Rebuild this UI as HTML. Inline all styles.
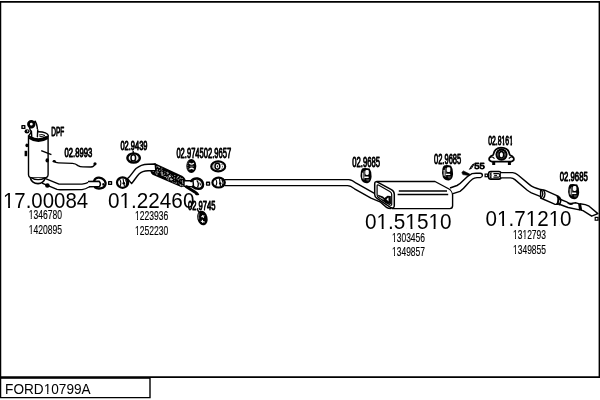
<!DOCTYPE html>
<html><head><meta charset="utf-8"><style>
html,body{margin:0;padding:0;background:#fff;}
body{width:600px;height:400px;overflow:hidden;position:relative;}
svg{position:absolute;left:0;top:0;display:block;will-change:transform;}
.big{font-family:"Liberation Sans",Arial,sans-serif;font-size:21.2px;fill:#000;}
.sm{font-family:"Liberation Sans",Arial,sans-serif;font-size:12.2px;fill:#000;stroke:#000;stroke-width:0.15px;}
.lb{font-family:"Liberation Sans",Arial,sans-serif;font-size:14px;fill:#000;stroke:#000;stroke-width:0.95px;stroke-linejoin:round;}
.ln{fill:none;stroke:#000;stroke-width:1.4;stroke-linecap:round;stroke-linejoin:round;}
.lw{fill:#fff;stroke:#000;stroke-width:1.4;stroke-linecap:round;stroke-linejoin:round;}
.lb2{fill:none;stroke:#000;stroke-width:2.2;stroke-linecap:round;stroke-linejoin:round;}
</style></head><body>
<svg width="600" height="400" viewBox="0 0 600 400">
<!-- frame -->
<path d="M0.6 1 V398" stroke="#000" stroke-width="1.3" fill="none"/>
<path d="M0 1.8 H600" stroke="#000" stroke-width="1.7" fill="none"/>
<path d="M599.3 1 V378" stroke="#000" stroke-width="1.4" fill="none"/>
<path d="M0 377.1 H600" stroke="#000" stroke-width="1.6" fill="none"/>
<path d="M150 377 V398.2 M0 397.6 H150.7" stroke="#000" stroke-width="1.4" fill="none"/>
<path d="M0 378.4 H150" stroke="#000" stroke-width="0.9" fill="none"/>


<!-- DPF part -->
<g id="dpf">
 <rect x="22" y="125.6" width="2.8" height="2.8" class="ln" stroke-width="1.1"/>
 <!-- inlet tube -->
 <path d="M29.6 127.5 C30.5 131 31.2 134 31.6 137 L37.4 136 C37.6 132 38.4 127 35.2 121.2 Z" class="lw" stroke-width="1.6"/>
 <circle cx="31.3" cy="124.2" r="2.8" fill="#fff" stroke="#000" stroke-width="2.8"/>
 <ellipse cx="27" cy="131.4" rx="2.5" ry="2.1" fill="#000"/><circle cx="27.6" cy="131" r="0.7" fill="#fff"/>
 <!-- body -->
 <path d="M28.5 135.6 V174.5 Q28.6 177.8 32 178 H44.5 Q48 177.8 48.1 174.5 V135.5" class="lw" stroke-width="1.5"/>
 <ellipse cx="38.6" cy="135.6" rx="9.6" ry="3.9" fill="#fff" stroke="#000" stroke-width="1.4"/>
 <path d="M29.6 137.2 Q38 143 47.4 137.4" fill="none" stroke="#000" stroke-width="3.6"/>
 <path d="M39 135 Q42 133.8 45 135.5 Q42 137.2 39.5 136.4" fill="none" stroke="#000" stroke-width="0.9"/>
 <!-- re-draw inlet tube over ellipse -->
 <path d="M30.6 131 C31 133 31.4 135 31.7 137 L37.2 136.2 C37.4 133 37.6 131 37.6 129" fill="#fff" stroke="none"/>
 <path d="M31.4 131 L31.8 137.6 M37.7 130 L37.4 136.8" class="ln" stroke-width="1.6"/>
 <!-- bottom -->
 <path d="M30.3 178 Q32 183.5 38 183.6 Q43.5 183.5 45.2 178" fill="#fff" stroke="#000" stroke-width="1.6"/>
 <path d="M31 177.6 Q38 181.8 45.5 177.6" fill="none" stroke="#000" stroke-width="1.3"/>
 <!-- side details -->
 <ellipse cx="26.9" cy="145.4" rx="1.5" ry="1.8" fill="#000"/>
 <path d="M25.9 150.8 V156.2" stroke="#000" stroke-width="2.6"/>
 <path d="M41.2 150.6 L51.4 154.6" stroke="#000" stroke-width="1.5"/>
 <ellipse cx="47.2" cy="160.4" rx="1.7" ry="2.1" fill="#000"/>
 <!-- sensor wire -->
 <path d="M54 161.3 Q55.5 162.8 58.5 162.9 L72.5 163.4 Q75.5 163.6 78 165.6 Q80 166.9 83 166.9 L91 167 Q94 166.8 94.8 164.2" class="ln" stroke-width="2.1"/>
 <circle cx="95" cy="163.8" r="1.6" fill="#000"/>
 <ellipse cx="54.2" cy="161.3" rx="1.6" ry="1.3" fill="#000"/>
 <!-- outlet pipe -->
 <path d="M45.6 178.6 L59 184.1 L82 184.1 Q86 183.8 89 182" class="ln" stroke-width="1.5"/>
 <path d="M42.6 183.4 L57 189.4 Q58.5 189.7 60 189.7 L82 189.6 Q85.5 189.2 89 187" class="ln" stroke-width="1.5"/>
 <circle cx="47.4" cy="185.5" r="2.3" fill="#000"/>
 <!-- flange -->
 <path d="M94.2 180.6 Q95.5 177.4 99 177.6 Q104.8 178.6 105.6 183 Q105.8 187.4 100.6 188.4 Q96.6 188.8 95 187.4" fill="#fff" stroke="#000" stroke-width="2.3" stroke-linecap="round"/>
 <path d="M88 181.6 L99.2 181.2 Q101.4 183.6 99.6 186.4 L89 186.8" fill="#fff" stroke="#000" stroke-width="1.5" stroke-linejoin="round"/>
 <ellipse cx="103.2" cy="184.4" rx="0.9" ry="1.3" fill="#000"/>
 <rect x="108.7" y="181.6" width="2.8" height="2.8" class="ln" stroke-width="1.1"/>
</g>


<!-- section 2 front pipe -->
<g id="sec2">
 <!-- gasket 02.9439 -->
 <path d="M133.2 150.8 V153" stroke="#000" stroke-width="1.4"/>
 <ellipse cx="133.6" cy="158" rx="6.3" ry="4.6" fill="#fff" stroke="#000" stroke-width="2.3"/>
 <path d="M128.6 156.4 Q128.2 158.6 129.4 160.4 M137.8 155.6 Q139 158 137.8 160.6" fill="none" stroke="#000" stroke-width="0.9" stroke-dasharray="1 0.9"/>
 <ellipse cx="133.3" cy="157.9" rx="2.3" ry="3.1" fill="#fff" stroke="#000" stroke-width="1.5"/>
 <!-- flex -->
 <path d="M155 163.3 L182 175.8 Q186 178 185.8 182 Q185.4 186.4 181.6 187.2 L152.5 174.8 Q149.8 172.6 150.3 168.5 Q151.3 164.2 155 163.3 Z" fill="#000"/>
 <rect x="166.3" y="177.0" width="0.9" height="0.8" fill="#eee"/><rect x="153.4" y="170.6" width="0.7" height="0.6" fill="#aaa"/><rect x="166.7" y="174.0" width="0.7" height="0.6" fill="#ccc"/><rect x="168.0" y="179.6" width="0.9" height="0.8" fill="#aaa"/><rect x="180.2" y="180.7" width="0.9" height="0.6" fill="#ccc"/><rect x="153.9" y="165.7" width="0.9" height="0.8" fill="#fff"/><rect x="153.1" y="171.3" width="0.9" height="0.6" fill="#eee"/><rect x="161.8" y="170.4" width="0.7" height="0.6" fill="#fff"/><rect x="154.9" y="172.7" width="1.1" height="0.6" fill="#ccc"/><rect x="182.7" y="183.4" width="0.7" height="0.6" fill="#eee"/><rect x="181.8" y="178.1" width="0.9" height="0.6" fill="#fff"/><rect x="164.1" y="173.5" width="1.1" height="0.8" fill="#ccc"/><rect x="167.3" y="179.3" width="1.1" height="0.6" fill="#ccc"/><rect x="153.3" y="166.5" width="0.9" height="0.8" fill="#eee"/><rect x="167.1" y="171.9" width="0.9" height="0.6" fill="#fff"/><rect x="152.4" y="170.8" width="0.7" height="0.6" fill="#fff"/><rect x="166.3" y="172.2" width="0.7" height="0.6" fill="#ccc"/><rect x="182.4" y="184.8" width="0.9" height="0.6" fill="#aaa"/><rect x="170.6" y="178.6" width="0.9" height="0.8" fill="#fff"/><rect x="181.7" y="181.2" width="0.9" height="0.8" fill="#aaa"/><rect x="166.7" y="176.5" width="1.1" height="0.6" fill="#ccc"/><rect x="171.6" y="175.0" width="0.7" height="0.6" fill="#aaa"/><rect x="178.1" y="179.5" width="0.9" height="0.8" fill="#fff"/><rect x="172.0" y="176.0" width="0.9" height="0.8" fill="#aaa"/><rect x="182.9" y="185.0" width="0.9" height="0.6" fill="#ccc"/><rect x="157.6" y="166.4" width="0.9" height="0.6" fill="#fff"/><rect x="156.1" y="174.3" width="0.9" height="0.6" fill="#aaa"/><rect x="163.8" y="176.0" width="1.1" height="0.8" fill="#aaa"/><rect x="170.3" y="179.0" width="0.9" height="0.8" fill="#eee"/><rect x="158.5" y="166.5" width="0.7" height="0.6" fill="#aaa"/><rect x="152.8" y="168.0" width="0.9" height="0.8" fill="#eee"/><rect x="175.7" y="181.9" width="1.1" height="0.6" fill="#eee"/><rect x="164.0" y="174.3" width="0.7" height="0.6" fill="#aaa"/><rect x="169.8" y="179.3" width="1.1" height="0.8" fill="#aaa"/><rect x="154.4" y="169.1" width="0.9" height="0.6" fill="#ccc"/><rect x="155.1" y="166.7" width="1.1" height="0.8" fill="#aaa"/><rect x="170.8" y="180.2" width="0.7" height="0.8" fill="#ccc"/><rect x="179.9" y="177.0" width="0.7" height="0.8" fill="#ccc"/><rect x="181.3" y="178.2" width="0.9" height="0.6" fill="#ccc"/><rect x="169.3" y="175.6" width="1.1" height="0.8" fill="#fff"/><rect x="153.4" y="167.2" width="1.1" height="0.8" fill="#aaa"/><rect x="183.1" y="183.0" width="0.9" height="0.8" fill="#eee"/><rect x="161.4" y="167.8" width="1.1" height="0.6" fill="#ccc"/><rect x="161.6" y="171.9" width="1.1" height="0.8" fill="#fff"/><rect x="168.0" y="177.6" width="1.1" height="0.8" fill="#eee"/><rect x="179.7" y="178.4" width="1.1" height="0.6" fill="#eee"/><rect x="161.4" y="170.9" width="0.7" height="0.6" fill="#eee"/><rect x="169.9" y="175.9" width="1.1" height="0.8" fill="#eee"/><rect x="156.8" y="165.9" width="0.7" height="0.6" fill="#ccc"/><rect x="161.8" y="174.7" width="1.1" height="0.8" fill="#aaa"/><rect x="157.6" y="172.3" width="1.1" height="0.6" fill="#eee"/><rect x="156.5" y="174.3" width="1.1" height="0.8" fill="#aaa"/><rect x="180.3" y="184.9" width="1.1" height="0.8" fill="#eee"/><rect x="182.8" y="181.6" width="0.7" height="0.8" fill="#eee"/><rect x="182.3" y="185.0" width="1.1" height="0.8" fill="#aaa"/><rect x="162.3" y="174.7" width="0.7" height="0.8" fill="#fff"/><rect x="173.8" y="177.2" width="1.1" height="0.6" fill="#aaa"/><rect x="168.5" y="175.4" width="0.7" height="0.6" fill="#aaa"/><rect x="172.2" y="181.5" width="0.9" height="0.8" fill="#aaa"/><rect x="159.3" y="169.9" width="0.9" height="0.8" fill="#fff"/><rect x="167.8" y="178.3" width="0.7" height="0.8" fill="#aaa"/><rect x="165.1" y="176.2" width="1.1" height="0.8" fill="#ccc"/><rect x="169.1" y="175.1" width="0.9" height="0.8" fill="#ccc"/><rect x="171.1" y="178.8" width="0.9" height="0.8" fill="#fff"/><rect x="182.3" y="181.7" width="0.7" height="0.8" fill="#fff"/><rect x="155.6" y="172.1" width="0.7" height="0.8" fill="#aaa"/><rect x="171.6" y="179.0" width="1.1" height="0.8" fill="#ccc"/><rect x="178.0" y="176.3" width="0.7" height="0.8" fill="#eee"/><rect x="182.1" y="182.6" width="1.1" height="0.8" fill="#ccc"/><rect x="170.3" y="177.8" width="1.1" height="0.8" fill="#eee"/><rect x="156.8" y="169.2" width="1.1" height="0.6" fill="#fff"/><rect x="167.4" y="171.9" width="0.9" height="0.8" fill="#aaa"/><rect x="179.1" y="178.6" width="0.7" height="0.8" fill="#aaa"/><rect x="155.4" y="166.8" width="1.1" height="0.8" fill="#ccc"/><rect x="152.7" y="168.3" width="1.1" height="0.6" fill="#ccc"/><rect x="161.6" y="174.0" width="1.1" height="0.8" fill="#aaa"/><rect x="174.4" y="177.6" width="0.7" height="0.8" fill="#aaa"/><rect x="168.6" y="176.6" width="1.1" height="0.8" fill="#fff"/><rect x="176.8" y="179.2" width="0.7" height="0.6" fill="#aaa"/><rect x="177.6" y="176.0" width="0.9" height="0.8" fill="#ccc"/><rect x="174.2" y="175.3" width="1.1" height="0.6" fill="#fff"/><rect x="179.0" y="183.8" width="0.9" height="0.6" fill="#ccc"/><rect x="175.6" y="183.1" width="0.9" height="0.8" fill="#eee"/><rect x="158.8" y="167.1" width="1.1" height="0.8" fill="#eee"/><rect x="161.6" y="172.7" width="1.1" height="0.8" fill="#ccc"/><rect x="166.5" y="177.6" width="0.7" height="0.8" fill="#fff"/><rect x="157.1" y="172.0" width="1.1" height="0.6" fill="#aaa"/><rect x="156.7" y="170.0" width="0.7" height="0.8" fill="#aaa"/><rect x="173.8" y="182.3" width="0.7" height="0.8" fill="#eee"/><rect x="177.9" y="182.7" width="0.7" height="0.6" fill="#fff"/><rect x="181.5" y="185.6" width="0.9" height="0.6" fill="#aaa"/><rect x="155.6" y="171.0" width="0.9" height="0.6" fill="#ccc"/><rect x="155.4" y="166.2" width="0.9" height="0.8" fill="#fff"/><rect x="182.0" y="180.3" width="0.7" height="0.8" fill="#fff"/><rect x="169.6" y="176.1" width="0.7" height="0.8" fill="#ccc"/><rect x="161.0" y="174.7" width="1.1" height="0.6" fill="#ccc"/><rect x="174.0" y="179.9" width="1.1" height="0.6" fill="#aaa"/><rect x="170.3" y="174.5" width="0.7" height="0.6" fill="#eee"/><rect x="160.5" y="172.4" width="1.1" height="0.8" fill="#ccc"/><rect x="177.2" y="176.9" width="0.7" height="0.8" fill="#eee"/><rect x="153.3" y="166.5" width="0.7" height="0.6" fill="#eee"/><rect x="156.5" y="173.1" width="0.9" height="0.6" fill="#fff"/><rect x="158.2" y="166.9" width="0.7" height="0.8" fill="#aaa"/><rect x="155.0" y="168.1" width="0.7" height="0.8" fill="#aaa"/><rect x="161.9" y="173.3" width="0.7" height="0.8" fill="#ccc"/><rect x="173.8" y="178.2" width="0.7" height="0.8" fill="#ccc"/><rect x="156.8" y="170.7" width="0.9" height="0.6" fill="#aaa"/><rect x="157.4" y="171.3" width="0.9" height="0.6" fill="#eee"/><rect x="160.7" y="168.8" width="1.1" height="0.6" fill="#eee"/><rect x="153.0" y="169.1" width="1.1" height="0.8" fill="#ccc"/><rect x="163.0" y="174.6" width="0.7" height="0.8" fill="#eee"/><rect x="172.1" y="179.0" width="0.7" height="0.6" fill="#eee"/><rect x="164.6" y="171.4" width="0.7" height="0.8" fill="#eee"/><rect x="166.9" y="173.3" width="1.1" height="0.8" fill="#ccc"/><rect x="180.2" y="184.4" width="0.9" height="0.8" fill="#fff"/><rect x="168.9" y="176.1" width="0.9" height="0.8" fill="#fff"/><rect x="176.4" y="177.9" width="0.9" height="0.6" fill="#eee"/><rect x="168.1" y="172.9" width="0.7" height="0.8" fill="#fff"/><rect x="161.0" y="172.9" width="0.7" height="0.6" fill="#ccc"/><rect x="176.9" y="177.2" width="0.7" height="0.6" fill="#eee"/>
 <!-- pipe -->
 <path d="M127.5 178.6 C131 176 133 171.5 136 168.6 C139.5 165.5 143 164.3 148 164.2 L155.2 164 L155.8 170.6 L148 170.7 C144 170.8 141.5 171.6 139 174 C136.5 176.5 134.6 180 131.6 183.6 Z" class="lw" stroke-width="1.5"/>
 <!-- flange -->
 <ellipse cx="122.6" cy="182.6" rx="5.6" ry="5.2" fill="#fff" stroke="#000" stroke-width="2.2"/>
 <path d="M119.5 179 Q122 183 119.8 186.6 M123 178.5 L124.5 186.5 M125.5 179.5 Q127.5 182.5 126 186" fill="none" stroke="#000" stroke-width="1.1"/>
 <circle cx="123.8" cy="183.2" r="1.3" fill="#000"/>
 <!-- tube after flex -->
 <path d="M184 180.8 L193 180.6 L193.6 186.9 L184 186.3 Z" class="lw" stroke-width="1.5"/>
 <!-- flange -->
 <path d="M191.2 181 Q193.6 177.9 197.6 178.5 Q202.6 179.8 203 184.4 Q203 188.6 198.6 188.8 Q195 188.8 192.8 186.6" fill="none" stroke="#000" stroke-width="2.5" stroke-linecap="round"/>
 <path d="M196.8 180.4 Q199.4 183.4 197.6 187.2" fill="none" stroke="#000" stroke-width="1.3"/>
 <path d="M199.8 182.6 L200.6 185.4" stroke="#000" stroke-width="1"/>
 <!-- bracket -->
 <path d="M186.4 186.8 L195.6 192.6" stroke="#000" stroke-width="3" fill="none" stroke-linecap="round"/>
 <path d="M195 192.2 Q197.8 192.6 198.6 194.4 Q197 195.2 195.4 194" fill="#000" stroke="#000" stroke-width="1.2" stroke-linejoin="round"/>
 <rect x="206.6" y="182.2" width="2.9" height="2.9" class="ln" stroke-width="1.3"/>
 <!-- hanger 02.9745 -->
 <ellipse cx="191.3" cy="166" rx="5" ry="7" fill="#000"/>
 <path d="M189.4 163 Q191.6 165.2 193.8 163 M189.4 169.4 Q191.6 167.2 193.8 169.4" fill="none" stroke="#fff" stroke-width="1.3"/>
 <ellipse cx="191.8" cy="166.2" rx="2.4" ry="0.6" fill="#666"/>
 <path d="M188.1 161.5 Q187.4 165.5 188.2 170" fill="none" stroke="#aaa" stroke-width="0.7" stroke-dasharray="1 0.8"/>
 <!-- gasket 02.9657 -->
 <ellipse cx="218.2" cy="166.4" rx="7" ry="5" fill="#fff" stroke="#000" stroke-width="2.1"/>
 <path d="M213.2 164.6 Q212.4 166.6 213.6 168.6 M221.8 164 Q223.2 166.4 221.8 168.8" fill="none" stroke="#000" stroke-width="0.9" stroke-dasharray="1 0.9"/>
 <ellipse cx="217.4" cy="166.3" rx="2.4" ry="3" fill="#fff" stroke="#000" stroke-width="1.5"/>
 <ellipse cx="217.4" cy="166.3" rx="0.6" ry="1.1" fill="#000"/>
 <!-- hanger lower 02.9745 -->
 <path d="M197.6 210.2 L200 213" stroke="#000" stroke-width="1.4"/>
 <ellipse cx="202.4" cy="218" rx="5.1" ry="7.4" fill="#000" transform="rotate(-14 202.4 218)"/>
 <path d="M201.2 216.8 L204.4 215.8 M202.6 215 L203.4 218 M200.8 221.2 L204.8 222 M202.4 219.8 L202.8 223" fill="none" stroke="#fff" stroke-width="1"/>
 <path d="M199 213.4 Q198.2 216.5 198.8 219.4" fill="none" stroke="#999" stroke-width="0.8"/>
</g>


<!-- section 3 middle pipe + muffler -->
<g id="sec3">
 <!-- flange -->
 <ellipse cx="218.6" cy="182.6" rx="6.2" ry="4.9" fill="#fff" stroke="#000" stroke-width="2.2"/>
 <path d="M215.5 179 Q218 182.5 215.6 186.3 M219.5 178.6 L220.5 186.6 M221.8 179.4 Q224 182.5 222.3 185.8" fill="none" stroke="#000" stroke-width="1.1"/>
 <circle cx="220.2" cy="183.4" r="1.2" fill="#000"/>
 <!-- pipe -->
 <path d="M224.8 179.6 H348.8 Q352 179.8 356.2 183.2 L374 193.2" class="ln" stroke-width="1.4"/>
 <path d="M224.8 185.6 H347.5 Q350.5 185.6 354.5 188.8 L371 198.2 L380 201.8 L386.5 207.4 Q388 208.6 391 208.6" class="ln" stroke-width="1.35"/>
 <!-- hanger 02.9685 -->
 <g transform="translate(366 175.6)">
  <path d="M-3.4 -7.4 Q0 -8.1 3.6 -7.1 Q5.9 -4 5.6 1.2 Q5.1 6.8 1.4 7.7 Q-2.4 8 -4.6 4.4 Q-6.1 0 -5.1 -4 Q-4.6 -6.7 -3.4 -7.4 Z" fill="#000"/>
  <path d="M-2.6 -4.6 Q-1 -5.8 -0.8 -3 L-1.2 3.6 Q-2.4 5 -3.2 3 Z" fill="#555"/>
  <path d="M0.2 3.2 Q2 2.8 3.6 3.6 L2.6 5.6 Q1 6 0.4 4.8 Z" fill="#444"/>
  <rect x="-0.7" y="-5.5" width="3.5" height="4.8" rx="1.3" fill="#fff"/>
  <rect x="-1.8" y="0.9" width="4.6" height="1.4" rx="0.6" fill="#fff"/>
  <rect x="-3.9" y="-3" width="1.1" height="6" rx="0.5" fill="#ddd"/>
 </g>
 <!-- muffler body -->
 <path d="M376.4 181.5 H435 L449 189 Q452.6 191 452.6 195 V205.8 Q452.6 208.6 449.8 208.6 H392" fill="#fff" stroke="#000" stroke-width="1.4" stroke-linejoin="round"/>
 <path d="M398.8 191 H447 M397.6 194.5 H448.2" fill="none" stroke="#000" stroke-width="1.3"/>
 <!-- front face -->
 <path d="M377 181.8 L391.4 189.6 Q394.3 191.2 394.3 194.2 V205.6 Q394.3 208.6 391.2 207.8 L377 198.4 Q374.7 197 374.7 194.4 V184 Q374.7 181 377 181.8 Z" fill="#fff" stroke="#000" stroke-width="1.5"/>
 <path d="M378.4 185 L389.8 191.5 Q391.7 192.6 391.7 194.6 V204.2 Q391.7 205.8 390 205 L378.6 197.6 Q377.1 196.8 377.1 195 V186 Q377.1 184.4 378.4 185 Z" fill="#fff" stroke="#000" stroke-width="1.2"/>
 <path d="M377.4 194.5 L383 196.5 L384.5 198 L387.5 195.8 L390.8 196 L391 204 L386 203.5 L380 198.6 Z" fill="#000"/>
 <path d="M386.4 199.2 L388.4 197.6 L388.6 201.4 Z" fill="#fff"/>
 <path d="M379.5 197.2 L383.5 199.4" stroke="#fff" stroke-width="0.8"/>
 <!-- outlet pipe -->
 <path d="M450 188 L457 185.5 Q460 184 463.5 180.2 Q468 175.6 472 173.6 Q474 173.1 477 173.2 H480.3 Q482.4 173.4 482.4 175.3 Q482.3 177.3 480.3 177.6 H477 Q474.2 177.8 472.6 179 Q470 181 466.8 184.8 Q463 189.4 460 191.4 L453 193.6" fill="#fff" stroke="#000" stroke-width="1.4" stroke-linejoin="round"/>
 <!-- pointer -->
 <path d="M461.8 172.4 L463.4 170.9 L469.8 174.1 L469 175.6 L462.8 174.6 Z" fill="#000" stroke="#000" stroke-width="0.6" stroke-linejoin="round"/>
 <!-- hanger 02.9685 #2 -->
 <g transform="translate(447.5 172.8)">
  <path d="M-3.4 -7.4 Q0 -8.1 3.6 -7.1 Q5.9 -4 5.6 1.2 Q5.1 6.8 1.4 7.7 Q-2.4 8 -4.6 4.4 Q-6.1 0 -5.1 -4 Q-4.6 -6.7 -3.4 -7.4 Z" fill="#000"/>
  <path d="M-2.6 -4.6 Q-1 -5.8 -0.8 -3 L-1.2 3.6 Q-2.4 5 -3.2 3 Z" fill="#555"/>
  <path d="M0.2 3.2 Q2 2.8 3.6 3.6 L2.6 5.6 Q1 6 0.4 4.8 Z" fill="#444"/>
  <rect x="-0.7" y="-5.5" width="3.5" height="4.8" rx="1.3" fill="#fff"/>
  <rect x="-1.8" y="0.9" width="4.6" height="1.4" rx="0.6" fill="#fff"/>
  <rect x="-3.9" y="-3" width="1.1" height="6" rx="0.5" fill="#ddd"/>
 </g>
</g>
<!-- section 4 tail pipe -->
<g id="sec4">
 <rect x="485.1" y="174.1" width="2.6" height="2.6" fill="none" stroke="#000" stroke-width="1.2"/>
 <!-- clamp 02.8161 -->
 <path d="M491.8 161.6 Q488.4 161 489.4 157.8 Q490.4 155.8 493.2 155 Q494.2 147.8 501.5 147.6 Q508.8 147.8 509.8 155 Q512.6 155.8 513.6 157.8 Q514.6 161 511.2 161.6 Z" fill="#fff" stroke="#000" stroke-width="1.8" stroke-linejoin="round"/>
 <path d="M489.8 157.6 Q492 155.8 494.5 158.6 M513.6 157.6 Q511.4 155.8 508.8 158.6" fill="none" stroke="#000" stroke-width="1.2"/>
 <rect x="492.2" y="161" width="3" height="4" fill="#000"/>
 <rect x="507.9" y="161" width="3" height="4" fill="#000"/>
 <circle cx="501.5" cy="154.6" r="5" fill="#fff" stroke="#000" stroke-width="2.1"/>
 <ellipse cx="501.4" cy="154.7" rx="2.3" ry="3.3" fill="none" stroke="#000" stroke-width="1.5"/>
 <path d="M498.7 150.8 Q497.6 154.6 498.7 158.4 M504.2 150.8 Q505.4 154.6 504.2 158.4" fill="none" stroke="#000" stroke-width="0.8"/>
 <!-- sleeve -->
 <rect x="488.6" y="171.5" width="12.4" height="7.6" rx="2.2" fill="#fff" stroke="#000" stroke-width="1.6"/>
 <path d="M490.2 172.4 Q492.4 175.3 490.2 178.3 M491.4 172.4 Q489.3 175.3 491.4 178.3" fill="none" stroke="#000" stroke-width="0.9"/>
 <path d="M493.4 173.6 H498.5 Q499.8 173.6 499.8 175.4 Q499.8 177.2 498.5 177.2 H493.4" fill="none" stroke="#000" stroke-width="1.2"/>
 <path d="M494.2 175.4 H497" stroke="#000" stroke-width="1"/>
 <!-- tail pipe -->
 <path d="M501 172.6 H512.7 Q515.5 172.8 518 175 L529.5 184.6 Q533 187.6 540.8 189.6 L540.8 196.6 L531.4 192.9 Q529 191.6 527 190 L514.9 179.6 Q513 178 510.5 177.9 H501" fill="#fff" stroke="#000" stroke-width="1.4" stroke-linejoin="round"/>
 <path d="M557 198 L567.2 202.2 Q569 204 572.5 203.2 L576 202.8 L579.5 203.8 L579.5 209.9 L568.1 207.5 L556 203" fill="#fff" stroke="#000" stroke-width="1.4" stroke-linejoin="round"/>
 <path d="M540.6 189.4 L544.6 190.2 L558.6 196.4 L557.6 204.4 L554.6 204.2 L540.6 198 Z" fill="#fff" stroke="#000" stroke-width="1.4" stroke-linejoin="round"/>
 <path d="M541 189.5 Q544.6 193.8 541 198.1 M543.2 189.9 Q546.8 194.2 543.2 198.5" fill="none" stroke="#000" stroke-width="1.3"/>
 <path d="M557 196 Q560.2 200.2 556.6 204.4 M559.2 196.8 Q562.4 201 558.8 205.2" fill="none" stroke="#000" stroke-width="1.6"/>
 <path d="M580 203.8 Q586 204.4 589.1 206.2 L597.9 213.6 L591.7 216.2 L583 210.6 L580.5 210.1" fill="#fff" stroke="#000" stroke-width="1.4" stroke-linejoin="round"/>
 <path d="M579.6 203.8 L580.8 210.2" stroke="#000" stroke-width="2.8"/>
 <path d="M567.6 202.6 Q570 205.6 573 203.8" fill="none" stroke="#000" stroke-width="1.2"/>
 <rect x="595.2" y="217.4" width="2.8" height="2.8" fill="none" stroke="#000" stroke-width="1.2"/>
 <!-- hanger 02.9685 #3 -->
 <g transform="translate(573.6 191.6)">
  <path d="M-3.4 -7.4 Q0 -8.1 3.6 -7.1 Q5.9 -4 5.6 1.2 Q5.1 6.8 1.4 7.7 Q-2.4 8 -4.6 4.4 Q-6.1 0 -5.1 -4 Q-4.6 -6.7 -3.4 -7.4 Z" fill="#000"/>
  <path d="M-2.6 -4.6 Q-1 -5.8 -0.8 -3 L-1.2 3.6 Q-2.4 5 -3.2 3 Z" fill="#555"/>
  <path d="M0.2 3.2 Q2 2.8 3.6 3.6 L2.6 5.6 Q1 6 0.4 4.8 Z" fill="#444"/>
  <rect x="-0.7" y="-5.5" width="3.5" height="4.8" rx="1.3" fill="#fff"/>
  <rect x="-1.8" y="0.9" width="4.6" height="1.4" rx="0.6" fill="#fff"/>
  <rect x="-3.9" y="-3" width="1.1" height="6" rx="0.5" fill="#ddd"/>
 </g>
</g>

<!-- big numbers -->
<text class="big" x="3.0" y="207.5" textLength="85.1" lengthAdjust="spacingAndGlyphs">17.00084</text>
<text class="big" x="108.0" y="207.7" textLength="86.4" lengthAdjust="spacingAndGlyphs">01.22460</text>
<text class="big" x="365.0" y="229.0" textLength="86.5" lengthAdjust="spacingAndGlyphs">01.51510</text>
<text class="big" x="485.6" y="225.8" textLength="86.0" lengthAdjust="spacingAndGlyphs">01.71210</text>

<!-- small numbers -->
<text class="sm" x="28.7" y="219.0" textLength="33.3" lengthAdjust="spacingAndGlyphs">1346780</text>
<text class="sm" x="28.7" y="234.0" textLength="33.3" lengthAdjust="spacingAndGlyphs">1420895</text>
<text class="sm" x="135" y="220.0" textLength="33.3" lengthAdjust="spacingAndGlyphs">1223936</text>
<text class="sm" x="135" y="235.0" textLength="33.3" lengthAdjust="spacingAndGlyphs">1252230</text>
<text class="sm" x="392" y="242.0" textLength="33" lengthAdjust="spacingAndGlyphs">1303456</text>
<text class="sm" x="392" y="256.0" textLength="33" lengthAdjust="spacingAndGlyphs">1349857</text>
<text class="sm" x="513" y="239.0" textLength="33" lengthAdjust="spacingAndGlyphs">1312793</text>
<text class="sm" x="513" y="254.0" textLength="33" lengthAdjust="spacingAndGlyphs">1349855</text>

<!-- labels -->
<text class="lb" x="51.2" y="135.5" textLength="13" lengthAdjust="spacingAndGlyphs" style="font-size:13.5px">DPF</text>
<text class="lb" x="64.5" y="156.6" textLength="27.8" lengthAdjust="spacingAndGlyphs" style="font-size:13.1px">02.8993</text>
<text class="lb" x="120.4" y="150.4" textLength="27.1" lengthAdjust="spacingAndGlyphs" style="font-size:13px">02.9439</text>
<text class="lb" x="176.4" y="158.2" textLength="27.4" lengthAdjust="spacingAndGlyphs">02.9745</text>
<text class="lb" x="203.8" y="158.2" textLength="27.5" lengthAdjust="spacingAndGlyphs">02.9657</text>
<text class="lb" x="188" y="210.4" textLength="27.5" lengthAdjust="spacingAndGlyphs" style="font-size:13.5px">02.9745</text>
<text class="lb" x="352.2" y="166.5" textLength="27.8" lengthAdjust="spacingAndGlyphs">02.9685</text>
<text class="lb" x="434" y="163.5" textLength="27.2" lengthAdjust="spacingAndGlyphs">02.9685</text>
<text class="lb" x="559.8" y="181.3" textLength="28" lengthAdjust="spacingAndGlyphs" style="font-size:13px">02.9685</text>
<text class="lb" x="488.2" y="145.3" textLength="24.8" lengthAdjust="spacingAndGlyphs" style="font-size:13.5px">02.8161</text>
<text class="lb" x="0" y="0" textLength="2.6" lengthAdjust="spacingAndGlyphs" transform="translate(468.9 168.6) skewX(-32)" style="font-size:9.5px;stroke-width:0.9px">ø</text>
<text class="lb" x="474.2" y="168.7" textLength="10.6" lengthAdjust="spacingAndGlyphs" style="font-size:8.7px;stroke-width:0.9px">55</text>

<!-- bottom label -->
<text x="5.1" y="393.7" textLength="85.6" lengthAdjust="spacingAndGlyphs" style="font-family:'Liberation Sans',Arial,sans-serif;font-size:14.3px" fill="#000">FORD10799A</text>
<!-- feet -->
<g><rect x="4.01" y="205.47" width="4.11" height="2.63" fill="#fff"/><rect x="9.96" y="205.47" width="3.95" height="2.63" fill="#fff"/><rect x="120.55" y="205.67" width="4.17" height="2.63" fill="#fff"/><rect x="126.59" y="205.67" width="4.00" height="2.63" fill="#fff"/><rect x="377.56" y="226.97" width="4.17" height="2.63" fill="#fff"/><rect x="383.61" y="226.97" width="4.01" height="2.63" fill="#fff"/><rect x="406.39" y="226.97" width="4.17" height="2.63" fill="#fff"/><rect x="412.44" y="226.97" width="4.01" height="2.63" fill="#fff"/><rect x="429.45" y="226.97" width="4.17" height="2.63" fill="#fff"/><rect x="435.50" y="226.97" width="4.01" height="2.63" fill="#fff"/><rect x="498.09" y="223.77" width="4.15" height="2.63" fill="#fff"/><rect x="504.10" y="223.77" width="3.99" height="2.63" fill="#fff"/><rect x="526.75" y="223.77" width="4.15" height="2.63" fill="#fff"/><rect x="532.76" y="223.77" width="3.99" height="2.63" fill="#fff"/><rect x="549.68" y="223.77" width="4.15" height="2.63" fill="#fff"/><rect x="555.69" y="223.77" width="3.99" height="2.63" fill="#fff"/><rect x="28.73" y="217.56" width="2.03" height="2.11" fill="#fff"/><rect x="31.70" y="217.56" width="1.96" height="2.11" fill="#fff"/><rect x="28.73" y="232.56" width="2.03" height="2.11" fill="#fff"/><rect x="31.70" y="232.56" width="1.96" height="2.11" fill="#fff"/><rect x="135.03" y="218.56" width="2.03" height="2.11" fill="#fff"/><rect x="138.00" y="218.56" width="1.96" height="2.11" fill="#fff"/><rect x="135.03" y="233.56" width="2.03" height="2.11" fill="#fff"/><rect x="138.00" y="233.56" width="1.96" height="2.11" fill="#fff"/><rect x="392.02" y="240.56" width="2.02" height="2.11" fill="#fff"/><rect x="394.98" y="240.56" width="1.95" height="2.11" fill="#fff"/><rect x="392.02" y="254.56" width="2.02" height="2.11" fill="#fff"/><rect x="394.98" y="254.56" width="1.95" height="2.11" fill="#fff"/><rect x="513.02" y="237.56" width="2.02" height="2.11" fill="#fff"/><rect x="515.98" y="237.56" width="1.95" height="2.11" fill="#fff"/><rect x="522.44" y="237.56" width="2.02" height="2.11" fill="#fff"/><rect x="525.40" y="237.56" width="1.95" height="2.11" fill="#fff"/><rect x="513.02" y="252.56" width="2.02" height="2.11" fill="#fff"/><rect x="515.98" y="252.56" width="1.95" height="2.11" fill="#fff"/><rect x="501.04" y="143.37" width="1.74" height="3.01" fill="#fff"/><rect x="504.38" y="143.37" width="1.68" height="3.01" fill="#fff"/><rect x="508.67" y="143.37" width="1.74" height="3.01" fill="#fff"/><rect x="512.01" y="143.37" width="1.68" height="3.01" fill="#fff"/><rect x="44.20" y="392.18" width="2.92" height="2.12" fill="#fff"/><rect x="48.37" y="392.18" width="2.82" height="2.12" fill="#fff"/></g>
<!-- /feet -->
</svg>
</body></html>
